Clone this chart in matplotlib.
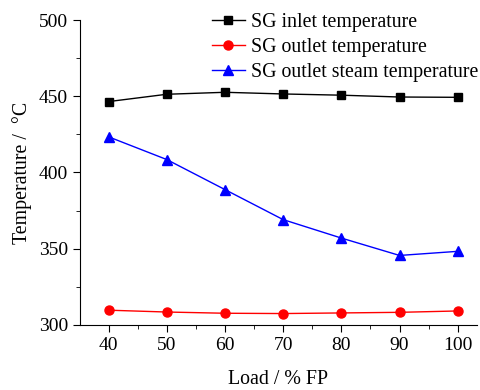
import matplotlib
matplotlib.use('Agg')
import matplotlib.pyplot as plt
from matplotlib.ticker import MultipleLocator

load = [40, 50, 60, 70, 80, 90, 100]
inlet_temp = [446.5, 451.3, 452.6, 451.5, 450.7, 449.5, 449.3]
outlet_temp = [309.7, 308.5, 307.7, 307.5, 307.9, 308.3, 309.2]
steam_temp = [423.4, 408.5, 388.8, 369.1, 357.0, 345.6, 348.3]

plt.rcParams['font.family'] = ['Liberation Serif', 'DejaVu Serif']

fig = plt.figure(figsize=(4.8, 3.9), dpi=100)
ax = fig.add_axes([0.1667, 0.1667, 0.827, 0.782])

ax.plot(load, inlet_temp, '-s', color='black', lw=1, ms=5.5, label='SG inlet temperature')
ax.plot(load, outlet_temp, '-o', color='red', lw=1, ms=6.5, label='SG outlet temperature')
ax.plot(load, steam_temp, '-^', color='blue', lw=1, ms=6.5, label='SG outlet steam temperature')

ax.set_xlim(35.1, 103.3)
ax.set_ylim(300, 500)
ax.set_xticks(load)
ax.xaxis.set_minor_locator(MultipleLocator(5))
ax.yaxis.set_major_locator(MultipleLocator(50))
ax.yaxis.set_minor_locator(MultipleLocator(25))
ax.tick_params(which='both', direction='out', labelsize=14)
ax.tick_params(which='major', length=5)
ax.tick_params(which='minor', length=3)
for s in ['top', 'right']:
    ax.spines[s].set_visible(False)

ax.set_xlabel('Load / % FP', fontsize=14.3, labelpad=12)
ax.set_ylabel('Temperature /  °C', fontsize=14.3, labelpad=5)

ax.legend(loc='upper right', bbox_to_anchor=(1.023, 1.048), frameon=False,
          fontsize=14.3, handlelength=1.65, handletextpad=0.3, labelspacing=0.3,
          borderaxespad=0)

fig.savefig('out.png', dpi=100)
